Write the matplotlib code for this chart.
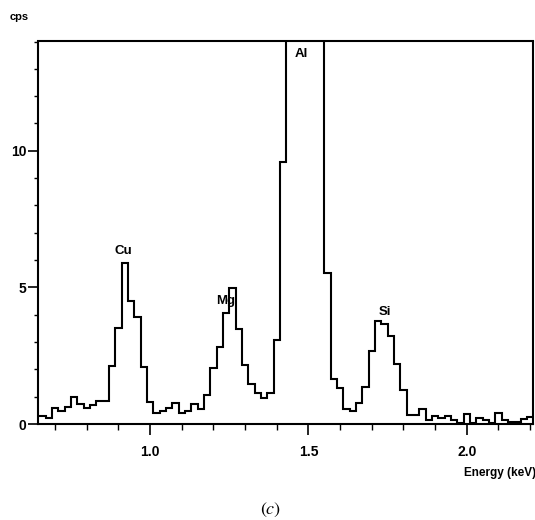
import numpy as np
import matplotlib
matplotlib.use("Agg")
import matplotlib.pyplot as plt
from matplotlib.ticker import MultipleLocator, FixedLocator

# ---- data (EDS spectrum, 20 eV channels) ----
channel_start_kev = 0.63
channel_width_kev = 0.02
counts_cps = [
    0.29, 0.29, 0.21, 0.57, 0.49, 0.63, 0.97, 0.73, 0.57, 0.69,
    0.84, 0.84, 2.13, 3.52, 5.90, 4.51, 3.92, 2.10, 0.79, 0.42,
    0.49, 0.57, 0.78, 0.41, 0.49, 0.72, 0.56, 1.07, 2.05, 2.82,
    4.07, 4.98, 3.47, 2.17, 1.47, 1.15, 0.96, 1.12, 3.07, 9.60,
    20.0, 35.0, 45.0, 42.0, 30.0, 16.0, 5.53, 1.65, 1.30, 0.54,
    0.49, 0.78, 1.34, 2.67, 3.78, 3.66, 3.23, 2.18, 1.24, 0.33,
    0.33, 0.56, 0.13, 0.29, 0.23, 0.29, 0.15, 0.05, 0.36, 0.05,
    0.22, 0.14, 0.02, 0.41, 0.16, 0.06, 0.06, 0.17, 0.24,
]
peak_labels = ["Cu", "Mg", "Al", "Si"]
peak_label_x = [0.916, 1.240, 1.478, 1.740]
peak_label_y = [6.33, 4.50, 13.56, 4.10]
x_major_ticks = [1.0, 1.5, 2.0]
x_tick_labels = ["1.0", "1.5", "2.0"]
y_major_ticks = [0, 5, 10]
y_tick_labels = ["0", "5", "10"]

edges = channel_start_kev + channel_width_kev * np.arange(len(counts_cps) + 1)

plt.rcParams["font.family"] = ["Liberation Sans", "DejaVu Sans"]
plt.rcParams["mathtext.fontset"] = "stix"

fig = plt.figure(figsize=(5.35, 5.2), dpi=100)
ax = fig.add_axes([38 / 535, 96 / 520, 495 / 535, 382.5 / 520])

ax.stairs(counts_cps, edges, baseline=None, color="black", linewidth=1.5)

ax.set_xlim(0.646, 2.209)
ax.set_ylim(0, 14)

for s in ax.spines.values():
    s.set_linewidth(1.5)
    s.set_color("black")

ax.xaxis.set_major_locator(FixedLocator(x_major_ticks))
ax.set_xticklabels(x_tick_labels)
ax.xaxis.set_minor_locator(MultipleLocator(0.1))
ax.yaxis.set_major_locator(FixedLocator(y_major_ticks))
ax.set_yticklabels(y_tick_labels)
ax.yaxis.set_minor_locator(MultipleLocator(1))

ax.tick_params(axis="x", which="major", direction="out", length=8, width=1.2, pad=7,
               labelsize=10)
ax.tick_params(axis="x", which="minor", direction="out", length=4, width=1.0)
ax.tick_params(axis="y", which="major", direction="out", length=7, width=1.2, pad=1.5,
               labelsize=10)
ax.tick_params(axis="y", which="minor", direction="out", length=3, width=1.0)
for lab in ax.get_xticklabels() + ax.get_yticklabels():
    lab.set_fontweight("bold")

for t, x, y in zip(peak_labels, peak_label_x, peak_label_y):
    ax.text(x, y, t, ha="center", va="center", fontsize=9.5, fontweight="bold")

fig.text(19 / 535, 1 - 16.5 / 520, "cps", ha="center", va="center", fontsize=8,
         fontweight="bold")
fig.text(500 / 535, 1 - 473 / 520, "Energy (keV)", ha="center", va="center",
         fontsize=8.5, fontweight="bold")
fig.text(271 / 535, 1 - 510 / 520, r"$(c)$", ha="center", va="center", fontsize=13)

fig.savefig("out.png", dpi=100, facecolor="white")
